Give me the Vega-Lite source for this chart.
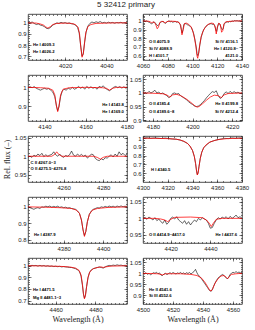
{
"$schema":"https://vega.github.io/schema/vega-lite/v6.json",
"title":{"text":"5 32412 primary","fontSize":8,"font":"Liberation Sans","fontWeight":"normal","anchor":"middle","offset":4,"color":"#222"},
"padding":{"left":2,"top":1,"right":0,"bottom":0},
"columns":2,
"bounds":"flush",
"spacing":{"row":15,"column":16},
"concat":[
{"width":99,"height":46,"layer":[
 {"data":{"name":"p1o"},"mark":{"type":"line","color":"#000","strokeWidth":0.6},"encoding":{"x":{"field":"w","type":"quantitative","title":null,"scale":{"domain":[4002,4050],"nice":false},"axis":{"orient":"bottom","values":[4020,4040],"format":"d"}},"y":{"field":"f","type":"quantitative","title":null,"scale":{"domain":[0.665,1.08],"nice":false,"zero":false},"axis":{"orient":"left","values":[0.7,0.8,0.9,1]}}}},
 {"data":{"name":"p1m"},"mark":{"type":"line","color":"#f00","strokeWidth":0.75},"encoding":{"x":{"field":"w","type":"quantitative","title":null,"axis":{"orient":"top","values":[4020,4040],"labels":false}},"y":{"field":"f","type":"quantitative","title":null,"axis":{"orient":"right","values":[0.7,0.8,0.9,1],"labels":false}}}},
 {"data":{"values":[{"w":4004.4,"f":0.8,"t":"He I 4009.3"},{"w":4004.4,"f":0.737,"t":"He I 4026.2"}]},"mark":{"type":"text","align":"left","baseline":"middle","fontSize":4.2,"fontWeight":"bold","font":"Liberation Sans"},"encoding":{"x":{"field":"w","type":"quantitative","title":null,"axis":{"orient":"bottom","values":[4004,4006,4008,4010,4012,4014,4016,4018,4020,4022,4024,4026,4028,4030,4032,4034,4036,4038,4040,4042,4044,4046,4048],"labels":false,"tickSize":-1.5}},"y":{"field":"f","type":"quantitative","title":null,"axis":{"orient":"left","values":[0.68,0.7,0.72,0.74,0.76,0.78,0.8,0.82,0.84,0.86,0.88,0.9,0.92,0.94,0.96,0.98,1,1.02,1.04,1.06],"labels":false,"tickSize":-1.5}},"text":{"field":"t"}}},
 {"data":{"values":[]},"mark":{"type":"text"},"encoding":{"x":{"field":"w","type":"quantitative","title":null,"axis":{"orient":"top","values":[4004,4006,4008,4010,4012,4014,4016,4018,4020,4022,4024,4026,4028,4030,4032,4034,4036,4038,4040,4042,4044,4046,4048],"labels":false,"tickSize":-1.5}},"y":{"field":"f","type":"quantitative","title":null,"axis":{"orient":"right","values":[0.68,0.7,0.72,0.74,0.76,0.78,0.8,0.82,0.84,0.86,0.88,0.9,0.92,0.94,0.96,0.98,1,1.02,1.04,1.06],"labels":false,"tickSize":-1.5}},"text":{"field":"t"}}}
],"resolve":{"axis":{"x":"independent","y":"independent"}}},
{"width":99,"height":46,"layer":[
 {"data":{"name":"p2o"},"mark":{"type":"line","color":"#000","strokeWidth":0.6},"encoding":{"x":{"field":"w","type":"quantitative","title":null,"scale":{"domain":[4060,4140],"nice":false},"axis":{"orient":"bottom","values":[4060,4080,4100,4120,4140],"format":"d"}},"y":{"field":"f","type":"quantitative","title":null,"scale":{"domain":[0.55,1.08],"nice":false,"zero":false},"axis":{"orient":"left","values":[0.6,0.7,0.8,0.9,1]}}}},
 {"data":{"name":"p2m"},"mark":{"type":"line","color":"#f00","strokeWidth":0.75},"encoding":{"x":{"field":"w","type":"quantitative","title":null,"axis":{"orient":"top","values":[4060,4080,4100,4120,4140],"labels":false}},"y":{"field":"f","type":"quantitative","title":null,"axis":{"orient":"right","values":[0.6,0.7,0.8,0.9,1],"labels":false}}}},
 {"data":{"values":[{"w":4064.8,"f":0.754,"t":"O II 4075.9"},{"w":4064.8,"f":0.673,"t":"Si IV 4088.9"},{"w":4064.8,"f":0.596,"t":"H I 4101.7"}]},"mark":{"type":"text","align":"left","baseline":"middle","fontSize":4.2,"fontWeight":"bold","font":"Liberation Sans"},"encoding":{"x":{"field":"w","type":"quantitative","title":null,"axis":{"orient":"bottom","values":[4065,4070,4075,4080,4085,4090,4095,4100,4105,4110,4115,4120,4125,4130,4135],"labels":false,"tickSize":-1.5}},"y":{"field":"f","type":"quantitative","title":null,"axis":{"orient":"left","values":[0.56,0.58,0.6,0.62,0.64,0.66,0.68,0.7,0.72,0.74,0.76,0.78,0.8,0.82,0.84,0.86,0.88,0.9,0.92,0.94,0.96,0.98,1,1.02,1.04,1.06],"labels":false,"tickSize":-1.5}},"text":{"field":"t"}}},
 {"data":{"values":[{"w":4136.8,"f":0.754,"t":"Si IV 4116.1"},{"w":4136.8,"f":0.673,"t":"He I 4120.8–"},{"w":4136.8,"f":0.596,"t":"4121.0"}]},"mark":{"type":"text","align":"right","baseline":"middle","fontSize":4.2,"fontWeight":"bold","font":"Liberation Sans"},"encoding":{"x":{"field":"w","type":"quantitative","title":null,"axis":{"orient":"top","values":[4065,4070,4075,4080,4085,4090,4095,4100,4105,4110,4115,4120,4125,4130,4135],"labels":false,"tickSize":-1.5}},"y":{"field":"f","type":"quantitative","title":null,"axis":{"orient":"right","values":[0.56,0.58,0.6,0.62,0.64,0.66,0.68,0.7,0.72,0.74,0.76,0.78,0.8,0.82,0.84,0.86,0.88,0.9,0.92,0.94,0.96,0.98,1,1.02,1.04,1.06],"labels":false,"tickSize":-1.5}},"text":{"field":"t"}}}
],"resolve":{"axis":{"x":"independent","y":"independent"}}},
{"width":99,"height":46,"layer":[
 {"data":{"name":"p3o"},"mark":{"type":"line","color":"#000","strokeWidth":0.6},"encoding":{"x":{"field":"w","type":"quantitative","title":null,"scale":{"domain":[4132,4180],"nice":false},"axis":{"orient":"bottom","values":[4140,4160,4180],"format":"d"}},"y":{"field":"f","type":"quantitative","title":null,"scale":{"domain":[0.82,1.066],"nice":false,"zero":false},"axis":{"orient":"left","values":[0.9,1]}}}},
 {"data":{"name":"p3m"},"mark":{"type":"line","color":"#f00","strokeWidth":0.75},"encoding":{"x":{"field":"w","type":"quantitative","title":null,"axis":{"orient":"top","values":[4140,4160,4180],"labels":false}},"y":{"field":"f","type":"quantitative","title":null,"axis":{"orient":"right","values":[0.9,1],"labels":false}}}},
 {"data":{"values":[]},"mark":{"type":"text"},"encoding":{"x":{"field":"w","type":"quantitative","title":null,"axis":{"orient":"bottom","values":[4134,4136,4138,4140,4142,4144,4146,4148,4150,4152,4154,4156,4158,4160,4162,4164,4166,4168,4170,4172,4174,4176,4178],"labels":false,"tickSize":-1.5}},"y":{"field":"f","type":"quantitative","title":null,"axis":{"orient":"left","values":[0.84,0.86,0.88,0.9,0.92,0.94,0.96,0.98,1,1.02,1.04,1.06],"labels":false,"tickSize":-1.5}},"text":{"field":"t"}}},
 {"data":{"values":[{"w":4178.5,"f":0.905,"t":"He I 4143.8"},{"w":4178.5,"f":0.866,"t":"He I 4169.0"}]},"mark":{"type":"text","align":"right","baseline":"middle","fontSize":4.2,"fontWeight":"bold","font":"Liberation Sans"},"encoding":{"x":{"field":"w","type":"quantitative","title":null,"axis":{"orient":"top","values":[4134,4136,4138,4140,4142,4144,4146,4148,4150,4152,4154,4156,4158,4160,4162,4164,4166,4168,4170,4172,4174,4176,4178],"labels":false,"tickSize":-1.5}},"y":{"field":"f","type":"quantitative","title":null,"axis":{"orient":"right","values":[0.84,0.86,0.88,0.9,0.92,0.94,0.96,0.98,1,1.02,1.04,1.06],"labels":false,"tickSize":-1.5}},"text":{"field":"t"}}}
],"resolve":{"axis":{"x":"independent","y":"independent"}}},
{"width":99,"height":46,"layer":[
 {"data":{"name":"p4o"},"mark":{"type":"line","color":"#000","strokeWidth":0.6},"encoding":{"x":{"field":"w","type":"quantitative","title":null,"scale":{"domain":[4175,4225],"nice":false},"axis":{"orient":"bottom","values":[4180,4200,4220],"format":"d"}},"y":{"field":"f","type":"quantitative","title":null,"scale":{"domain":[0.897,1.066],"nice":false,"zero":false},"axis":{"orient":"left","values":[0.9,0.95,1,1.05]}}}},
 {"data":{"name":"p4m"},"mark":{"type":"line","color":"#f00","strokeWidth":0.75},"encoding":{"x":{"field":"w","type":"quantitative","title":null,"axis":{"orient":"top","values":[4180,4200,4220],"labels":false}},"y":{"field":"f","type":"quantitative","title":null,"axis":{"orient":"right","values":[0.9,0.95,1,1.05],"labels":false}}}},
 {"data":{"values":[{"w":4178,"f":0.958,"t":"O II 4185.4"},{"w":4178,"f":0.929,"t":"O II 4189.6–8"}]},"mark":{"type":"text","align":"left","baseline":"middle","fontSize":4.2,"fontWeight":"bold","font":"Liberation Sans"},"encoding":{"x":{"field":"w","type":"quantitative","title":null,"axis":{"orient":"bottom","values":[4176,4178,4180,4182,4184,4186,4188,4190,4192,4194,4196,4198,4200,4202,4204,4206,4208,4210,4212,4214,4216,4218,4220,4222,4224],"labels":false,"tickSize":-1.5}},"y":{"field":"f","type":"quantitative","title":null,"axis":{"orient":"left","values":[0.9,0.91,0.92,0.93,0.94,0.95,0.96,0.97,0.98,0.99,1,1.01,1.02,1.03,1.04,1.05,1.06],"labels":false,"tickSize":-1.5}},"text":{"field":"t"}}},
 {"data":{"values":[{"w":4223,"f":0.958,"t":"He II 4199.8"},{"w":4223,"f":0.929,"t":"Si IV 4212.4"}]},"mark":{"type":"text","align":"right","baseline":"middle","fontSize":4.2,"fontWeight":"bold","font":"Liberation Sans"},"encoding":{"x":{"field":"w","type":"quantitative","title":null,"axis":{"orient":"top","values":[4176,4178,4180,4182,4184,4186,4188,4190,4192,4194,4196,4198,4200,4202,4204,4206,4208,4210,4212,4214,4216,4218,4220,4222,4224],"labels":false,"tickSize":-1.5}},"y":{"field":"f","type":"quantitative","title":null,"axis":{"orient":"right","values":[0.9,0.91,0.92,0.93,0.94,0.95,0.96,0.97,0.98,0.99,1,1.01,1.02,1.03,1.04,1.05,1.06],"labels":false,"tickSize":-1.5}},"text":{"field":"t"}}}
],"resolve":{"axis":{"x":"independent","y":"independent"}}},
{"width":99,"height":46,"layer":[
 {"data":{"name":"p5o"},"mark":{"type":"line","color":"#000","strokeWidth":0.6},"encoding":{"x":{"field":"w","type":"quantitative","title":null,"scale":{"domain":[4242,4292],"nice":false},"axis":{"orient":"bottom","values":[4260,4280],"format":"d"}},"y":{"field":"f","type":"quantitative","title":"Rel. flux (–)","scale":{"domain":[0.93,1.055],"nice":false,"zero":false},"axis":{"orient":"left","values":[0.95,1,1.05]}}}},
 {"data":{"name":"p5m"},"mark":{"type":"line","color":"#f00","strokeWidth":0.75},"encoding":{"x":{"field":"w","type":"quantitative","title":null,"axis":{"orient":"top","values":[4260,4280],"labels":false}},"y":{"field":"f","type":"quantitative","title":null,"axis":{"orient":"right","values":[0.95,1,1.05],"labels":false}}}},
 {"data":{"values":[{"w":4243.3,"f":0.9825,"t":"C II 4267.0–3"},{"w":4243.3,"f":0.9645,"t":"O II 4275.5–4276.8"}]},"mark":{"type":"text","align":"left","baseline":"middle","fontSize":4.2,"fontWeight":"bold","font":"Liberation Sans"},"encoding":{"x":{"field":"w","type":"quantitative","title":null,"axis":{"orient":"bottom","values":[4244,4246,4248,4250,4252,4254,4256,4258,4260,4262,4264,4266,4268,4270,4272,4274,4276,4278,4280,4282,4284,4286,4288,4290],"labels":false,"tickSize":-1.5}},"y":{"field":"f","type":"quantitative","title":null,"axis":{"orient":"left","values":[0.94,0.95,0.96,0.97,0.98,0.99,1,1.01,1.02,1.03,1.04,1.05],"labels":false,"tickSize":-1.5}},"text":{"field":"t"}}},
 {"data":{"values":[]},"mark":{"type":"text"},"encoding":{"x":{"field":"w","type":"quantitative","title":null,"axis":{"orient":"top","values":[4244,4246,4248,4250,4252,4254,4256,4258,4260,4262,4264,4266,4268,4270,4272,4274,4276,4278,4280,4282,4284,4286,4288,4290],"labels":false,"tickSize":-1.5}},"y":{"field":"f","type":"quantitative","title":null,"axis":{"orient":"right","values":[0.94,0.95,0.96,0.97,0.98,0.99,1,1.01,1.02,1.03,1.04,1.05],"labels":false,"tickSize":-1.5}},"text":{"field":"t"}}}
],"resolve":{"axis":{"x":"independent","y":"independent"}}},
{"width":99,"height":46,"layer":[
 {"data":{"name":"p6o"},"mark":{"type":"line","color":"#000","strokeWidth":0.6},"encoding":{"x":{"field":"w","type":"quantitative","title":null,"scale":{"domain":[4300,4380],"nice":false},"axis":{"orient":"bottom","values":[4300,4320,4340,4360,4380],"format":"d"}},"y":{"field":"f","type":"quantitative","title":null,"scale":{"domain":[0.5,1.025],"nice":false,"zero":false},"axis":{"orient":"left","values":[0.6,0.7,0.8,0.9,1]}}}},
 {"data":{"name":"p6m"},"mark":{"type":"line","color":"#f00","strokeWidth":0.75},"encoding":{"x":{"field":"w","type":"quantitative","title":null,"axis":{"orient":"top","values":[4300,4320,4340,4360,4380],"labels":false}},"y":{"field":"f","type":"quantitative","title":null,"axis":{"orient":"right","values":[0.6,0.7,0.8,0.9,1],"labels":false}}}},
 {"data":{"values":[{"w":4306.5,"f":0.634,"t":"H I 4340.5"}]},"mark":{"type":"text","align":"left","baseline":"middle","fontSize":4.2,"fontWeight":"bold","font":"Liberation Sans"},"encoding":{"x":{"field":"w","type":"quantitative","title":null,"axis":{"orient":"bottom","values":[4305,4310,4315,4320,4325,4330,4335,4340,4345,4350,4355,4360,4365,4370,4375],"labels":false,"tickSize":-1.5}},"y":{"field":"f","type":"quantitative","title":null,"axis":{"orient":"left","values":[0.52,0.54,0.56,0.58,0.6,0.62,0.64,0.66,0.68,0.7,0.72,0.74,0.76,0.78,0.8,0.82,0.84,0.86,0.88,0.9,0.92,0.94,0.96,0.98,1,1.02],"labels":false,"tickSize":-1.5}},"text":{"field":"t"}}},
 {"data":{"values":[]},"mark":{"type":"text"},"encoding":{"x":{"field":"w","type":"quantitative","title":null,"axis":{"orient":"top","values":[4305,4310,4315,4320,4325,4330,4335,4340,4345,4350,4355,4360,4365,4370,4375],"labels":false,"tickSize":-1.5}},"y":{"field":"f","type":"quantitative","title":null,"axis":{"orient":"right","values":[0.52,0.54,0.56,0.58,0.6,0.62,0.64,0.66,0.68,0.7,0.72,0.74,0.76,0.78,0.8,0.82,0.84,0.86,0.88,0.9,0.92,0.94,0.96,0.98,1,1.02],"labels":false,"tickSize":-1.5}},"text":{"field":"t"}}}
],"resolve":{"axis":{"x":"independent","y":"independent"}}},
{"width":99,"height":46,"layer":[
 {"data":{"name":"p7o"},"mark":{"type":"line","color":"#000","strokeWidth":0.6},"encoding":{"x":{"field":"w","type":"quantitative","title":null,"scale":{"domain":[4362,4412],"nice":false},"axis":{"orient":"bottom","values":[4380,4400],"format":"d"}},"y":{"field":"f","type":"quantitative","title":null,"scale":{"domain":[0.78,1.06],"nice":false,"zero":false},"axis":{"orient":"left","values":[0.8,0.9,1]}}}},
 {"data":{"name":"p7m"},"mark":{"type":"line","color":"#f00","strokeWidth":0.75},"encoding":{"x":{"field":"w","type":"quantitative","title":null,"axis":{"orient":"top","values":[4380,4400],"labels":false}},"y":{"field":"f","type":"quantitative","title":null,"axis":{"orient":"right","values":[0.8,0.9,1],"labels":false}}}},
 {"data":{"values":[{"w":4365,"f":0.827,"t":"He I 4387.9"}]},"mark":{"type":"text","align":"left","baseline":"middle","fontSize":4.2,"fontWeight":"bold","font":"Liberation Sans"},"encoding":{"x":{"field":"w","type":"quantitative","title":null,"axis":{"orient":"bottom","values":[4364,4366,4368,4370,4372,4374,4376,4378,4380,4382,4384,4386,4388,4390,4392,4394,4396,4398,4400,4402,4404,4406,4408,4410],"labels":false,"tickSize":-1.5}},"y":{"field":"f","type":"quantitative","title":null,"axis":{"orient":"left","values":[0.8,0.82,0.84,0.86,0.88,0.9,0.92,0.94,0.96,0.98,1,1.02,1.04],"labels":false,"tickSize":-1.5}},"text":{"field":"t"}}},
 {"data":{"values":[]},"mark":{"type":"text"},"encoding":{"x":{"field":"w","type":"quantitative","title":null,"axis":{"orient":"top","values":[4364,4366,4368,4370,4372,4374,4376,4378,4380,4382,4384,4386,4388,4390,4392,4394,4396,4398,4400,4402,4404,4406,4408,4410],"labels":false,"tickSize":-1.5}},"y":{"field":"f","type":"quantitative","title":null,"axis":{"orient":"right","values":[0.8,0.82,0.84,0.86,0.88,0.9,0.92,0.94,0.96,0.98,1,1.02,1.04],"labels":false,"tickSize":-1.5}},"text":{"field":"t"}}}
],"resolve":{"axis":{"x":"independent","y":"independent"}}},
{"width":99,"height":46,"layer":[
 {"data":{"name":"p8o"},"mark":{"type":"line","color":"#000","strokeWidth":0.6},"encoding":{"x":{"field":"w","type":"quantitative","title":null,"scale":{"domain":[4406,4456],"nice":false},"axis":{"orient":"bottom","values":[4420,4440],"format":"d"}},"y":{"field":"f","type":"quantitative","title":null,"scale":{"domain":[0.925,1.065],"nice":false,"zero":false},"axis":{"orient":"left","values":[0.95,1,1.05]}}}},
 {"data":{"name":"p8m"},"mark":{"type":"line","color":"#f00","strokeWidth":0.75},"encoding":{"x":{"field":"w","type":"quantitative","title":null,"axis":{"orient":"top","values":[4420,4440],"labels":false}},"y":{"field":"f","type":"quantitative","title":null,"axis":{"orient":"right","values":[0.95,1,1.05],"labels":false}}}},
 {"data":{"values":[{"w":4409,"f":0.9485,"t":"O II 4414.9–4417.0"}]},"mark":{"type":"text","align":"left","baseline":"middle","fontSize":4.2,"fontWeight":"bold","font":"Liberation Sans"},"encoding":{"x":{"field":"w","type":"quantitative","title":null,"axis":{"orient":"bottom","values":[4408,4410,4412,4414,4416,4418,4420,4422,4424,4426,4428,4430,4432,4434,4436,4438,4440,4442,4444,4446,4448,4450,4452,4454],"labels":false,"tickSize":-1.5}},"y":{"field":"f","type":"quantitative","title":null,"axis":{"orient":"left","values":[0.93,0.94,0.95,0.96,0.97,0.98,0.99,1,1.01,1.02,1.03,1.04,1.05,1.06],"labels":false,"tickSize":-1.5}},"text":{"field":"t"}}},
 {"data":{"values":[{"w":4453.5,"f":0.9485,"t":"He I 4437.6"}]},"mark":{"type":"text","align":"right","baseline":"middle","fontSize":4.2,"fontWeight":"bold","font":"Liberation Sans"},"encoding":{"x":{"field":"w","type":"quantitative","title":null,"axis":{"orient":"top","values":[4408,4410,4412,4414,4416,4418,4420,4422,4424,4426,4428,4430,4432,4434,4436,4438,4440,4442,4444,4446,4448,4450,4452,4454],"labels":false,"tickSize":-1.5}},"y":{"field":"f","type":"quantitative","title":null,"axis":{"orient":"right","values":[0.93,0.94,0.95,0.96,0.97,0.98,0.99,1,1.01,1.02,1.03,1.04,1.05,1.06],"labels":false,"tickSize":-1.5}},"text":{"field":"t"}}}
],"resolve":{"axis":{"x":"independent","y":"independent"}}},
{"width":99,"height":46,"layer":[
 {"data":{"name":"p9o"},"mark":{"type":"line","color":"#000","strokeWidth":0.6},"encoding":{"x":{"field":"w","type":"quantitative","title":"Wavelength (Å)","scale":{"domain":[4446,4496],"nice":false},"axis":{"orient":"bottom","values":[4460,4480],"format":"d"}},"y":{"field":"f","type":"quantitative","title":null,"scale":{"domain":[0.67,1.067],"nice":false,"zero":false},"axis":{"orient":"left","values":[0.7,0.8,0.9,1]}}}},
 {"data":{"name":"p9m"},"mark":{"type":"line","color":"#f00","strokeWidth":0.75},"encoding":{"x":{"field":"w","type":"quantitative","title":null,"axis":{"orient":"top","values":[4460,4480],"labels":false}},"y":{"field":"f","type":"quantitative","title":null,"axis":{"orient":"right","values":[0.7,0.8,0.9,1],"labels":false}}}},
 {"data":{"values":[{"w":4448.5,"f":0.788,"t":"He I 4471.5"},{"w":4448.5,"f":0.724,"t":"Mg II 4481.1–3"}]},"mark":{"type":"text","align":"left","baseline":"middle","fontSize":4.2,"fontWeight":"bold","font":"Liberation Sans"},"encoding":{"x":{"field":"w","type":"quantitative","title":null,"axis":{"orient":"bottom","values":[4448,4450,4452,4454,4456,4458,4460,4462,4464,4466,4468,4470,4472,4474,4476,4478,4480,4482,4484,4486,4488,4490,4492,4494],"labels":false,"tickSize":-1.5}},"y":{"field":"f","type":"quantitative","title":null,"axis":{"orient":"left","values":[0.68,0.7,0.72,0.74,0.76,0.78,0.8,0.82,0.84,0.86,0.88,0.9,0.92,0.94,0.96,0.98,1,1.02,1.04,1.06],"labels":false,"tickSize":-1.5}},"text":{"field":"t"}}},
 {"data":{"values":[]},"mark":{"type":"text"},"encoding":{"x":{"field":"w","type":"quantitative","title":null,"axis":{"orient":"top","values":[4448,4450,4452,4454,4456,4458,4460,4462,4464,4466,4468,4470,4472,4474,4476,4478,4480,4482,4484,4486,4488,4490,4492,4494],"labels":false,"tickSize":-1.5}},"y":{"field":"f","type":"quantitative","title":null,"axis":{"orient":"right","values":[0.68,0.7,0.72,0.74,0.76,0.78,0.8,0.82,0.84,0.86,0.88,0.9,0.92,0.94,0.96,0.98,1,1.02,1.04,1.06],"labels":false,"tickSize":-1.5}},"text":{"field":"t"}}}
],"resolve":{"axis":{"x":"independent","y":"independent"}}},
{"width":99,"height":46,"layer":[
 {"data":{"name":"p10o"},"mark":{"type":"line","color":"#000","strokeWidth":0.6},"encoding":{"x":{"field":"w","type":"quantitative","title":"Wavelength (Å)","scale":{"domain":[4500,4566],"nice":false},"axis":{"orient":"bottom","values":[4500,4520,4540,4560],"format":"d"}},"y":{"field":"f","type":"quantitative","title":null,"scale":{"domain":[0.86,1.07],"nice":false,"zero":false},"axis":{"orient":"left","values":[0.9,0.95,1,1.05]}}}},
 {"data":{"name":"p10m"},"mark":{"type":"line","color":"#f00","strokeWidth":0.75},"encoding":{"x":{"field":"w","type":"quantitative","title":null,"axis":{"orient":"top","values":[4500,4520,4540,4560],"labels":false}},"y":{"field":"f","type":"quantitative","title":null,"axis":{"orient":"right","values":[0.9,0.95,1,1.05],"labels":false}}}},
 {"data":{"values":[{"w":4504,"f":0.9253,"t":"He II 4541.6"},{"w":4504,"f":0.895,"t":"Si III 4552.6"}]},"mark":{"type":"text","align":"left","baseline":"middle","fontSize":4.2,"fontWeight":"bold","font":"Liberation Sans"},"encoding":{"x":{"field":"w","type":"quantitative","title":null,"axis":{"orient":"bottom","values":[4502,4504,4506,4508,4510,4512,4514,4516,4518,4520,4522,4524,4526,4528,4530,4532,4534,4536,4538,4540,4542,4544,4546,4548,4550,4552,4554,4556,4558,4560,4562,4564],"labels":false,"tickSize":-1.5}},"y":{"field":"f","type":"quantitative","title":null,"axis":{"orient":"left","values":[0.87,0.88,0.89,0.9,0.91,0.92,0.93,0.94,0.95,0.96,0.97,0.98,0.99,1,1.01,1.02,1.03,1.04,1.05,1.06],"labels":false,"tickSize":-1.5}},"text":{"field":"t"}}},
 {"data":{"values":[]},"mark":{"type":"text"},"encoding":{"x":{"field":"w","type":"quantitative","title":null,"axis":{"orient":"top","values":[4502,4504,4506,4508,4510,4512,4514,4516,4518,4520,4522,4524,4526,4528,4530,4532,4534,4536,4538,4540,4542,4544,4546,4548,4550,4552,4554,4556,4558,4560,4562,4564],"labels":false,"tickSize":-1.5}},"y":{"field":"f","type":"quantitative","title":null,"axis":{"orient":"right","values":[0.87,0.88,0.89,0.9,0.91,0.92,0.93,0.94,0.95,0.96,0.97,0.98,0.99,1,1.01,1.02,1.03,1.04,1.05,1.06],"labels":false,"tickSize":-1.5}},"text":{"field":"t"}}}
],"resolve":{"axis":{"x":"independent","y":"independent"}}}
],
"datasets":{
"p1o":[{"w":4002,"f":1.005},{"w":4003,"f":1.0},{"w":4004,"f":1.008},{"w":4005,"f":0.995},{"w":4006,"f":0.985},{"w":4007,"f":0.99},{"w":4008,"f":0.98},{"w":4009,"f":0.975},{"w":4010,"f":0.965},{"w":4011,"f":0.95},{"w":4012,"f":0.948},{"w":4013,"f":0.96},{"w":4014,"f":0.98},{"w":4015,"f":0.99},{"w":4016,"f":1.0},{"w":4017,"f":0.995},{"w":4018,"f":1.005},{"w":4019,"f":0.998},{"w":4020,"f":1.002},{"w":4021,"f":0.995},{"w":4022,"f":1.0},{"w":4023,"f":0.992},{"w":4024,"f":0.99},{"w":4025,"f":0.98},{"w":4026,"f":0.96},{"w":4026.8,"f":0.91},{"w":4027.5,"f":0.8},{"w":4028.2,"f":0.7},{"w":4028.8,"f":0.72},{"w":4029.5,"f":0.83},{"w":4030.2,"f":0.92},{"w":4031,"f":0.97},{"w":4032,"f":0.995},{"w":4033,"f":1.008},{"w":4034,"f":1.0},{"w":4035,"f":1.01},{"w":4036,"f":1.003},{"w":4037,"f":1.012},{"w":4038,"f":1.0},{"w":4039,"f":1.005},{"w":4040,"f":0.998},{"w":4041,"f":1.006},{"w":4042,"f":1.0},{"w":4043,"f":1.004},{"w":4044,"f":0.997},{"w":4045,"f":1.003},{"w":4046,"f":1.0},{"w":4047,"f":1.005},{"w":4048,"f":0.998},{"w":4049,"f":1.003},{"w":4050,"f":1.0}],
"p1m":[{"w":4002,"f":1.0},{"w":4006,"f":0.998},{"w":4008,"f":0.99},{"w":4009.5,"f":0.98},{"w":4010.5,"f":0.965},{"w":4011.6,"f":0.953},{"w":4012.8,"f":0.965},{"w":4014,"f":0.985},{"w":4016,"f":0.995},{"w":4020,"f":0.998},{"w":4023,"f":0.995},{"w":4025,"f":0.985},{"w":4026.3,"f":0.96},{"w":4027,"f":0.9},{"w":4027.6,"f":0.78},{"w":4028.2,"f":0.69},{"w":4028.8,"f":0.72},{"w":4029.4,"f":0.82},{"w":4030,"f":0.91},{"w":4031,"f":0.965},{"w":4032.5,"f":0.985},{"w":4035,"f":0.995},{"w":4040,"f":0.998},{"w":4045,"f":1.0},{"w":4050,"f":1.0}],
"p2o":[{"w":4060,"f":1.0},{"w":4061,"f":1.005},{"w":4062,"f":0.995},{"w":4063,"f":1.0},{"w":4064,"f":0.99},{"w":4065,"f":0.985},{"w":4066,"f":0.975},{"w":4067,"f":0.965},{"w":4068,"f":0.98},{"w":4069,"f":0.99},{"w":4070,"f":0.975},{"w":4071,"f":0.955},{"w":4072,"f":0.945},{"w":4073,"f":0.96},{"w":4074,"f":0.985},{"w":4075,"f":0.99},{"w":4076,"f":0.995},{"w":4077,"f":0.985},{"w":4078,"f":0.97},{"w":4079,"f":0.985},{"w":4080,"f":0.995},{"w":4081,"f":1.0},{"w":4082,"f":0.99},{"w":4083,"f":0.995},{"w":4084,"f":0.985},{"w":4085,"f":0.99},{"w":4086,"f":0.995},{"w":4087,"f":0.985},{"w":4088,"f":0.99},{"w":4089,"f":0.98},{"w":4090,"f":0.96},{"w":4091,"f":0.9},{"w":4091.6,"f":0.86},{"w":4092.3,"f":0.9},{"w":4093,"f":0.96},{"w":4094,"f":0.97},{"w":4095,"f":0.965},{"w":4096,"f":0.955},{"w":4097,"f":0.95},{"w":4098,"f":0.94},{"w":4099,"f":0.925},{"w":4100,"f":0.895},{"w":4101,"f":0.85},{"w":4102,"f":0.78},{"w":4103,"f":0.7},{"w":4103.7,"f":0.62},{"w":4104.3,"f":0.6},{"w":4105,"f":0.63},{"w":4106,"f":0.73},{"w":4107,"f":0.81},{"w":4108,"f":0.86},{"w":4109,"f":0.9},{"w":4110,"f":0.92},{"w":4111,"f":0.94},{"w":4112,"f":0.95},{"w":4113,"f":0.96},{"w":4114,"f":0.965},{"w":4115,"f":0.97},{"w":4116,"f":0.96},{"w":4117,"f":0.965},{"w":4118,"f":0.945},{"w":4119,"f":0.89},{"w":4119.6,"f":0.88},{"w":4120.3,"f":0.93},{"w":4121,"f":0.97},{"w":4122,"f":0.965},{"w":4123,"f":0.93},{"w":4124,"f":0.9},{"w":4124.8,"f":0.91},{"w":4125.5,"f":0.96},{"w":4126.5,"f":0.98},{"w":4128,"f":0.99},{"w":4129,"f":0.985},{"w":4130,"f":0.995},{"w":4131,"f":0.99},{"w":4132,"f":1.0},{"w":4133,"f":0.995},{"w":4134,"f":1.005},{"w":4135,"f":1.0},{"w":4136,"f":1.003},{"w":4137,"f":0.998},{"w":4138,"f":1.002},{"w":4139,"f":0.998},{"w":4140,"f":1.0}],
"p2m":[{"w":4060,"f":1.0},{"w":4064,"f":0.998},{"w":4066,"f":0.99},{"w":4067,"f":0.975},{"w":4068,"f":0.99},{"w":4069.5,"f":0.98},{"w":4070.5,"f":0.95},{"w":4071.5,"f":0.91},{"w":4072.5,"f":0.93},{"w":4073.5,"f":0.98},{"w":4075,"f":0.995},{"w":4077,"f":0.99},{"w":4078,"f":0.975},{"w":4079,"f":0.99},{"w":4081,"f":0.998},{"w":4086,"f":0.995},{"w":4089,"f":0.985},{"w":4090.5,"f":0.95},{"w":4091.5,"f":0.84},{"w":4092.5,"f":0.9},{"w":4093.5,"f":0.97},{"w":4095,"f":0.975},{"w":4097,"f":0.96},{"w":4099,"f":0.93},{"w":4100.5,"f":0.87},{"w":4101.8,"f":0.79},{"w":4102.8,"f":0.7},{"w":4103.6,"f":0.6},{"w":4104.2,"f":0.57},{"w":4104.9,"f":0.62},{"w":4105.8,"f":0.72},{"w":4107,"f":0.82},{"w":4108.5,"f":0.88},{"w":4110,"f":0.92},{"w":4112,"f":0.955},{"w":4114,"f":0.97},{"w":4115.5,"f":0.975},{"w":4117,"f":0.97},{"w":4118.3,"f":0.93},{"w":4119.2,"f":0.85},{"w":4120,"f":0.93},{"w":4121.3,"f":0.975},{"w":4122.5,"f":0.96},{"w":4123.5,"f":0.87},{"w":4124.5,"f":0.89},{"w":4125.5,"f":0.97},{"w":4127,"f":0.99},{"w":4130,"f":0.995},{"w":4135,"f":1.0},{"w":4140,"f":1.0}],
"p3o":[{"w":4132,"f":1.0},{"w":4133,"f":1.003},{"w":4134,"f":0.998},{"w":4135,"f":1.004},{"w":4136,"f":0.995},{"w":4137,"f":0.99},{"w":4138,"f":0.985},{"w":4139,"f":0.99},{"w":4140,"f":0.995},{"w":4141,"f":0.99},{"w":4142,"f":0.993},{"w":4143,"f":0.985},{"w":4144,"f":0.975},{"w":4145,"f":0.95},{"w":4145.8,"f":0.9},{"w":4146.4,"f":0.875},{"w":4147,"f":0.895},{"w":4147.8,"f":0.95},{"w":4148.6,"f":0.98},{"w":4149.5,"f":0.99},{"w":4150.5,"f":0.985},{"w":4151.5,"f":0.995},{"w":4152.5,"f":0.99},{"w":4153.5,"f":1.0},{"w":4154.5,"f":0.99},{"w":4155.5,"f":0.995},{"w":4156.5,"f":1.005},{"w":4157.5,"f":0.995},{"w":4158.5,"f":1.002},{"w":4159.5,"f":0.99},{"w":4160.5,"f":1.005},{"w":4161.5,"f":0.995},{"w":4162.5,"f":1.003},{"w":4163.5,"f":0.995},{"w":4164.5,"f":1.0},{"w":4165.5,"f":0.99},{"w":4166.5,"f":1.005},{"w":4167.5,"f":1.0},{"w":4168.5,"f":1.008},{"w":4169.5,"f":0.995},{"w":4170.5,"f":0.988},{"w":4171.5,"f":0.982},{"w":4172.5,"f":0.99},{"w":4173.5,"f":1.0},{"w":4174.5,"f":1.005},{"w":4175.5,"f":0.998},{"w":4176.5,"f":1.004},{"w":4177.5,"f":0.996},{"w":4178.5,"f":1.003},{"w":4179.5,"f":0.995},{"w":4180,"f":1.0}],
"p3m":[{"w":4132,"f":1.0},{"w":4138,"f":0.998},{"w":4142,"f":0.995},{"w":4144,"f":0.985},{"w":4145,"f":0.96},{"w":4145.8,"f":0.9},{"w":4146.4,"f":0.87},{"w":4147,"f":0.9},{"w":4147.8,"f":0.96},{"w":4149,"f":0.99},{"w":4152,"f":0.998},{"w":4160,"f":1.0},{"w":4168,"f":0.998},{"w":4170,"f":0.995},{"w":4171.5,"f":0.985},{"w":4173,"f":0.995},{"w":4175,"f":1.0},{"w":4180,"f":1.0}],
"p4o":[{"w":4175,"f":1.0},{"w":4176,"f":1.003},{"w":4177,"f":0.998},{"w":4178,"f":1.006},{"w":4179,"f":1.0},{"w":4180,"f":1.004},{"w":4181,"f":1.01},{"w":4182,"f":1.0},{"w":4183,"f":1.003},{"w":4184,"f":0.997},{"w":4185,"f":1.0},{"w":4186,"f":0.995},{"w":4187,"f":0.99},{"w":4188,"f":0.983},{"w":4189,"f":0.987},{"w":4190,"f":0.998},{"w":4191,"f":1.0},{"w":4192,"f":0.996},{"w":4193,"f":0.998},{"w":4194,"f":0.99},{"w":4195,"f":0.985},{"w":4196,"f":0.98},{"w":4197,"f":0.975},{"w":4198,"f":0.968},{"w":4199,"f":0.962},{"w":4200,"f":0.958},{"w":4201,"f":0.952},{"w":4202,"f":0.95},{"w":4203,"f":0.952},{"w":4204,"f":0.957},{"w":4205,"f":0.965},{"w":4206,"f":0.972},{"w":4207,"f":0.982},{"w":4208,"f":0.99},{"w":4209,"f":0.998},{"w":4210,"f":1.005},{"w":4211,"f":1.002},{"w":4212,"f":1.008},{"w":4213,"f":0.99},{"w":4214,"f":0.98},{"w":4215,"f":0.985},{"w":4216,"f":0.998},{"w":4217,"f":1.004},{"w":4218,"f":0.998},{"w":4219,"f":1.006},{"w":4220,"f":0.999},{"w":4221,"f":1.005},{"w":4222,"f":1.0},{"w":4223,"f":1.003},{"w":4224,"f":0.998},{"w":4225,"f":1.0}],
"p4m":[{"w":4175,"f":1.0},{"w":4180,"f":0.999},{"w":4185,"f":0.997},{"w":4187,"f":0.993},{"w":4188.5,"f":0.985},{"w":4190,"f":0.993},{"w":4192,"f":0.995},{"w":4194,"f":0.99},{"w":4196,"f":0.982},{"w":4198,"f":0.972},{"w":4200,"f":0.96},{"w":4201.5,"f":0.951},{"w":4202.5,"f":0.948},{"w":4203.5,"f":0.951},{"w":4205,"f":0.96},{"w":4207,"f":0.973},{"w":4209,"f":0.985},{"w":4211,"f":0.992},{"w":4213,"f":0.99},{"w":4214.5,"f":0.983},{"w":4216,"f":0.993},{"w":4218,"f":0.998},{"w":4225,"f":1.0}],
"p5o":[{"w":4242,"f":0.998},{"w":4243,"f":1.0},{"w":4244,"f":0.997},{"w":4245,"f":1.003},{"w":4246,"f":1.0},{"w":4247,"f":1.006},{"w":4248,"f":1.002},{"w":4249,"f":1.008},{"w":4250,"f":0.999},{"w":4251,"f":1.004},{"w":4252,"f":1.0},{"w":4253,"f":1.003},{"w":4254,"f":1.005},{"w":4255,"f":1.012},{"w":4256,"f":1.004},{"w":4257,"f":1.0},{"w":4258,"f":1.006},{"w":4259,"f":1.0},{"w":4260,"f":0.997},{"w":4261,"f":1.002},{"w":4262,"f":1.0},{"w":4263,"f":1.004},{"w":4264,"f":1.014},{"w":4265,"f":1.003},{"w":4266,"f":1.0},{"w":4267,"f":1.006},{"w":4268,"f":1.001},{"w":4269,"f":1.005},{"w":4270,"f":1.0},{"w":4271,"f":1.003},{"w":4272,"f":0.995},{"w":4273,"f":1.0},{"w":4274,"f":1.006},{"w":4275,"f":1.004},{"w":4276,"f":0.994},{"w":4277,"f":0.99},{"w":4278,"f":0.988},{"w":4279,"f":0.993},{"w":4280,"f":0.99},{"w":4281,"f":0.996},{"w":4282,"f":0.995},{"w":4283,"f":1.0},{"w":4284,"f":1.004},{"w":4285,"f":0.998},{"w":4286,"f":1.006},{"w":4287,"f":1.0},{"w":4288,"f":1.012},{"w":4289,"f":1.004},{"w":4290,"f":1.008},{"w":4291,"f":1.002},{"w":4292,"f":1.005}],
"p5m":[{"w":4242,"f":1.0},{"w":4254,"f":1.0},{"w":4255.5,"f":1.005},{"w":4256.5,"f":1.012},{"w":4257.5,"f":1.005},{"w":4259,"f":1.0},{"w":4275,"f":1.0},{"w":4277,"f":0.997},{"w":4278.5,"f":0.992},{"w":4280,"f":0.997},{"w":4282,"f":1.0},{"w":4292,"f":1.0}],
"p6o":[{"w":4300,"f":1.0},{"w":4303,"f":1.005},{"w":4306,"f":0.998},{"w":4309,"f":1.003},{"w":4312,"f":1.0},{"w":4315,"f":0.996},{"w":4318,"f":1.002},{"w":4321,"f":0.995},{"w":4324,"f":0.99},{"w":4327,"f":0.988},{"w":4330,"f":0.978},{"w":4333,"f":0.963},{"w":4336,"f":0.94},{"w":4338,"f":0.908},{"w":4340,"f":0.86},{"w":4341.5,"f":0.79},{"w":4342.5,"f":0.71},{"w":4343.3,"f":0.625},{"w":4343.9,"f":0.585},{"w":4344.5,"f":0.605},{"w":4345.3,"f":0.68},{"w":4346.3,"f":0.77},{"w":4347.5,"f":0.84},{"w":4349,"f":0.89},{"w":4351,"f":0.92},{"w":4354,"f":0.955},{"w":4357,"f":0.97},{"w":4360,"f":0.982},{"w":4363,"f":0.99},{"w":4366,"f":0.998},{"w":4369,"f":0.995},{"w":4372,"f":1.003},{"w":4375,"f":0.998},{"w":4378,"f":1.003},{"w":4380,"f":1.0}],
"p6m":[{"w":4300,"f":1.0},{"w":4310,"f":0.998},{"w":4320,"f":0.995},{"w":4326,"f":0.99},{"w":4330,"f":0.98},{"w":4333,"f":0.965},{"w":4336,"f":0.94},{"w":4338,"f":0.91},{"w":4340,"f":0.86},{"w":4341.5,"f":0.79},{"w":4342.5,"f":0.71},{"w":4343.3,"f":0.62},{"w":4343.9,"f":0.58},{"w":4344.5,"f":0.6},{"w":4345.3,"f":0.68},{"w":4346.3,"f":0.77},{"w":4347.5,"f":0.84},{"w":4349,"f":0.89},{"w":4351,"f":0.925},{"w":4354,"f":0.955},{"w":4358,"f":0.975},{"w":4362,"f":0.987},{"w":4368,"f":0.995},{"w":4380,"f":1.0}],
"p7o":[{"w":4362,"f":1.0},{"w":4363,"f":0.995},{"w":4364,"f":0.99},{"w":4365,"f":0.985},{"w":4366,"f":0.992},{"w":4367,"f":0.995},{"w":4368,"f":0.99},{"w":4369,"f":1.0},{"w":4370,"f":0.998},{"w":4371,"f":1.004},{"w":4372,"f":1.0},{"w":4373,"f":1.005},{"w":4374,"f":0.998},{"w":4375,"f":1.003},{"w":4376,"f":0.999},{"w":4377,"f":1.004},{"w":4378,"f":0.997},{"w":4379,"f":1.0},{"w":4380,"f":0.995},{"w":4381,"f":0.998},{"w":4382,"f":0.993},{"w":4383,"f":0.995},{"w":4384,"f":0.99},{"w":4385,"f":0.988},{"w":4386,"f":0.985},{"w":4387,"f":0.975},{"w":4388,"f":0.96},{"w":4389,"f":0.92},{"w":4389.8,"f":0.86},{"w":4390.5,"f":0.825},{"w":4391.2,"f":0.85},{"w":4392,"f":0.91},{"w":4393,"f":0.955},{"w":4394,"f":0.975},{"w":4395,"f":0.985},{"w":4396,"f":0.99},{"w":4397,"f":0.995},{"w":4398,"f":0.993},{"w":4399,"f":1.0},{"w":4400,"f":0.997},{"w":4401,"f":1.003},{"w":4402,"f":0.998},{"w":4403,"f":1.005},{"w":4404,"f":1.0},{"w":4405,"f":1.004},{"w":4406,"f":0.998},{"w":4407,"f":1.005},{"w":4408,"f":1.0},{"w":4409,"f":1.006},{"w":4410,"f":1.0},{"w":4411,"f":1.004},{"w":4412,"f":1.0}],
"p7m":[{"w":4362,"f":1.0},{"w":4370,"f":0.998},{"w":4378,"f":0.995},{"w":4384,"f":0.99},{"w":4386.5,"f":0.98},{"w":4388,"f":0.96},{"w":4389,"f":0.92},{"w":4389.8,"f":0.86},{"w":4390.5,"f":0.82},{"w":4391.2,"f":0.85},{"w":4392,"f":0.91},{"w":4393,"f":0.955},{"w":4394.5,"f":0.98},{"w":4397,"f":0.99},{"w":4402,"f":0.996},{"w":4412,"f":1.0}],
"p8o":[{"w":4406,"f":1.0},{"w":4407,"f":1.003},{"w":4408,"f":0.997},{"w":4409,"f":1.004},{"w":4410,"f":1.0},{"w":4411,"f":0.995},{"w":4412,"f":1.002},{"w":4413,"f":0.993},{"w":4414,"f":0.998},{"w":4415,"f":0.99},{"w":4416,"f":0.985},{"w":4417,"f":0.995},{"w":4418,"f":0.982},{"w":4419,"f":0.988},{"w":4420,"f":1.0},{"w":4421,"f":1.004},{"w":4422,"f":0.998},{"w":4423,"f":1.005},{"w":4424,"f":0.995},{"w":4425,"f":0.99},{"w":4426,"f":0.985},{"w":4427,"f":0.993},{"w":4428,"f":0.982},{"w":4429,"f":0.99},{"w":4430,"f":0.98},{"w":4431,"f":0.988},{"w":4432,"f":0.995},{"w":4433,"f":0.99},{"w":4434,"f":1.0},{"w":4435,"f":0.995},{"w":4436,"f":1.002},{"w":4437,"f":0.998},{"w":4438,"f":0.995},{"w":4439,"f":0.985},{"w":4440,"f":0.97},{"w":4441,"f":0.972},{"w":4442,"f":0.985},{"w":4443,"f":0.995},{"w":4444,"f":1.002},{"w":4445,"f":0.998},{"w":4446,"f":1.004},{"w":4447,"f":1.0},{"w":4448,"f":1.005},{"w":4449,"f":0.998},{"w":4450,"f":1.006},{"w":4451,"f":1.0},{"w":4452,"f":1.004},{"w":4453,"f":1.01},{"w":4454,"f":1.002},{"w":4455,"f":1.005},{"w":4456,"f":1.0}],
"p8m":[{"w":4406,"f":1.0},{"w":4412,"f":1.0},{"w":4415,"f":0.998},{"w":4417,"f":0.995},{"w":4418.5,"f":0.99},{"w":4420,"f":0.997},{"w":4422,"f":1.003},{"w":4430,"f":1.004},{"w":4436,"f":1.002},{"w":4438,"f":0.995},{"w":4439.5,"f":0.985},{"w":4440.5,"f":0.975},{"w":4441.5,"f":0.985},{"w":4443,"f":0.997},{"w":4446,"f":1.0},{"w":4456,"f":1.0}],
"p9o":[{"w":4446,"f":1.002},{"w":4447,"f":0.998},{"w":4448,"f":1.004},{"w":4449,"f":1.0},{"w":4450,"f":1.003},{"w":4451,"f":0.997},{"w":4452,"f":1.003},{"w":4453,"f":0.998},{"w":4454,"f":1.002},{"w":4455,"f":0.996},{"w":4456,"f":1.0},{"w":4457,"f":0.995},{"w":4458,"f":0.998},{"w":4459,"f":0.993},{"w":4460,"f":0.996},{"w":4461,"f":0.992},{"w":4462,"f":0.995},{"w":4463,"f":0.99},{"w":4464,"f":0.993},{"w":4465,"f":0.99},{"w":4466,"f":0.988},{"w":4467,"f":0.985},{"w":4468,"f":0.985},{"w":4469,"f":0.98},{"w":4470,"f":0.975},{"w":4471,"f":0.965},{"w":4472,"f":0.95},{"w":4472.8,"f":0.91},{"w":4473.5,"f":0.83},{"w":4474,"f":0.755},{"w":4474.5,"f":0.72},{"w":4475,"f":0.745},{"w":4475.6,"f":0.82},{"w":4476.3,"f":0.895},{"w":4477,"f":0.94},{"w":4478,"f":0.965},{"w":4479,"f":0.975},{"w":4480,"f":0.98},{"w":4481,"f":0.985},{"w":4482,"f":0.99},{"w":4483,"f":0.985},{"w":4484,"f":0.98},{"w":4485,"f":0.99},{"w":4486,"f":0.998},{"w":4487,"f":1.003},{"w":4488,"f":1.0},{"w":4489,"f":1.006},{"w":4490,"f":1.002},{"w":4491,"f":1.008},{"w":4492,"f":1.003},{"w":4493,"f":1.006},{"w":4494,"f":1.0},{"w":4495,"f":1.004},{"w":4496,"f":1.0}],
"p9m":[{"w":4446,"f":1.0},{"w":4455,"f":0.998},{"w":4462,"f":0.995},{"w":4467,"f":0.99},{"w":4470,"f":0.98},{"w":4471.8,"f":0.96},{"w":4472.8,"f":0.92},{"w":4473.5,"f":0.84},{"w":4474,"f":0.76},{"w":4474.5,"f":0.715},{"w":4475,"f":0.74},{"w":4475.6,"f":0.82},{"w":4476.3,"f":0.9},{"w":4477.3,"f":0.95},{"w":4479,"f":0.975},{"w":4481,"f":0.985},{"w":4483,"f":0.99},{"w":4484,"f":0.985},{"w":4485,"f":0.99},{"w":4488,"f":0.997},{"w":4496,"f":1.0}],
"p10o":[{"w":4500,"f":1.0},{"w":4501,"f":0.997},{"w":4502,"f":1.003},{"w":4503,"f":0.995},{"w":4504,"f":1.0},{"w":4505,"f":0.993},{"w":4506,"f":0.998},{"w":4507,"f":1.003},{"w":4508,"f":1.0},{"w":4509,"f":1.005},{"w":4510,"f":0.998},{"w":4511,"f":1.002},{"w":4512,"f":0.992},{"w":4513,"f":0.99},{"w":4514,"f":0.997},{"w":4515,"f":1.0},{"w":4516,"f":0.994},{"w":4517,"f":0.999},{"w":4518,"f":1.003},{"w":4519,"f":0.998},{"w":4520,"f":1.004},{"w":4521,"f":1.0},{"w":4522,"f":0.997},{"w":4523,"f":1.002},{"w":4524,"f":0.999},{"w":4525,"f":1.004},{"w":4526,"f":0.998},{"w":4527,"f":1.002},{"w":4528,"f":0.997},{"w":4529,"f":1.003},{"w":4530,"f":0.999},{"w":4531,"f":1.004},{"w":4532,"f":0.997},{"w":4533,"f":1.003},{"w":4534,"f":1.008},{"w":4535,"f":1.018},{"w":4536,"f":1.002},{"w":4537,"f":0.99},{"w":4538,"f":0.985},{"w":4539,"f":0.975},{"w":4540,"f":0.965},{"w":4541,"f":0.955},{"w":4542,"f":0.945},{"w":4543,"f":0.935},{"w":4544,"f":0.925},{"w":4545,"f":0.918},{"w":4546,"f":0.922},{"w":4547,"f":0.94},{"w":4548,"f":0.955},{"w":4549,"f":0.968},{"w":4550,"f":0.978},{"w":4551,"f":0.985},{"w":4552,"f":0.99},{"w":4553,"f":0.995},{"w":4554,"f":0.99},{"w":4555,"f":0.982},{"w":4556,"f":0.975},{"w":4557,"f":0.98},{"w":4558,"f":0.995},{"w":4559,"f":1.0},{"w":4560,"f":1.005},{"w":4561,"f":1.002},{"w":4562,"f":1.008},{"w":4563,"f":1.003},{"w":4564,"f":1.006},{"w":4565,"f":1.002},{"w":4566,"f":1.004}],
"p10m":[{"w":4500,"f":1.0},{"w":4510,"f":0.998},{"w":4513,"f":0.993},{"w":4515,"f":0.998},{"w":4525,"f":0.998},{"w":4532,"f":0.995},{"w":4536,"f":0.99},{"w":4539,"f":0.978},{"w":4541,"f":0.962},{"w":4543,"f":0.94},{"w":4544.5,"f":0.922},{"w":4545.5,"f":0.92},{"w":4546.5,"f":0.93},{"w":4548,"f":0.955},{"w":4550,"f":0.975},{"w":4552,"f":0.988},{"w":4554,"f":0.99},{"w":4555.5,"f":0.982},{"w":4556.4,"f":0.975},{"w":4557.5,"f":0.985},{"w":4559,"f":0.995},{"w":4562,"f":0.998},{"w":4566,"f":1.0}]
},
"config":{
"numberFormat":"~g",
"view":{"stroke":"#222","strokeWidth":0.8},
"axis":{"domain":false,"grid":false,"tickSize":-3,"tickColor":"#222","tickWidth":0.6,"labelFont":"Liberation Sans","labelFontSize":6,"labelColor":"#222","labelPadding":5,"labelFlush":false,"labelOverlap":false,"titleFont":"Liberation Serif","titleFontSize":8,"titleFontWeight":"normal","titleColor":"#222","titlePadding":3}
}
}
